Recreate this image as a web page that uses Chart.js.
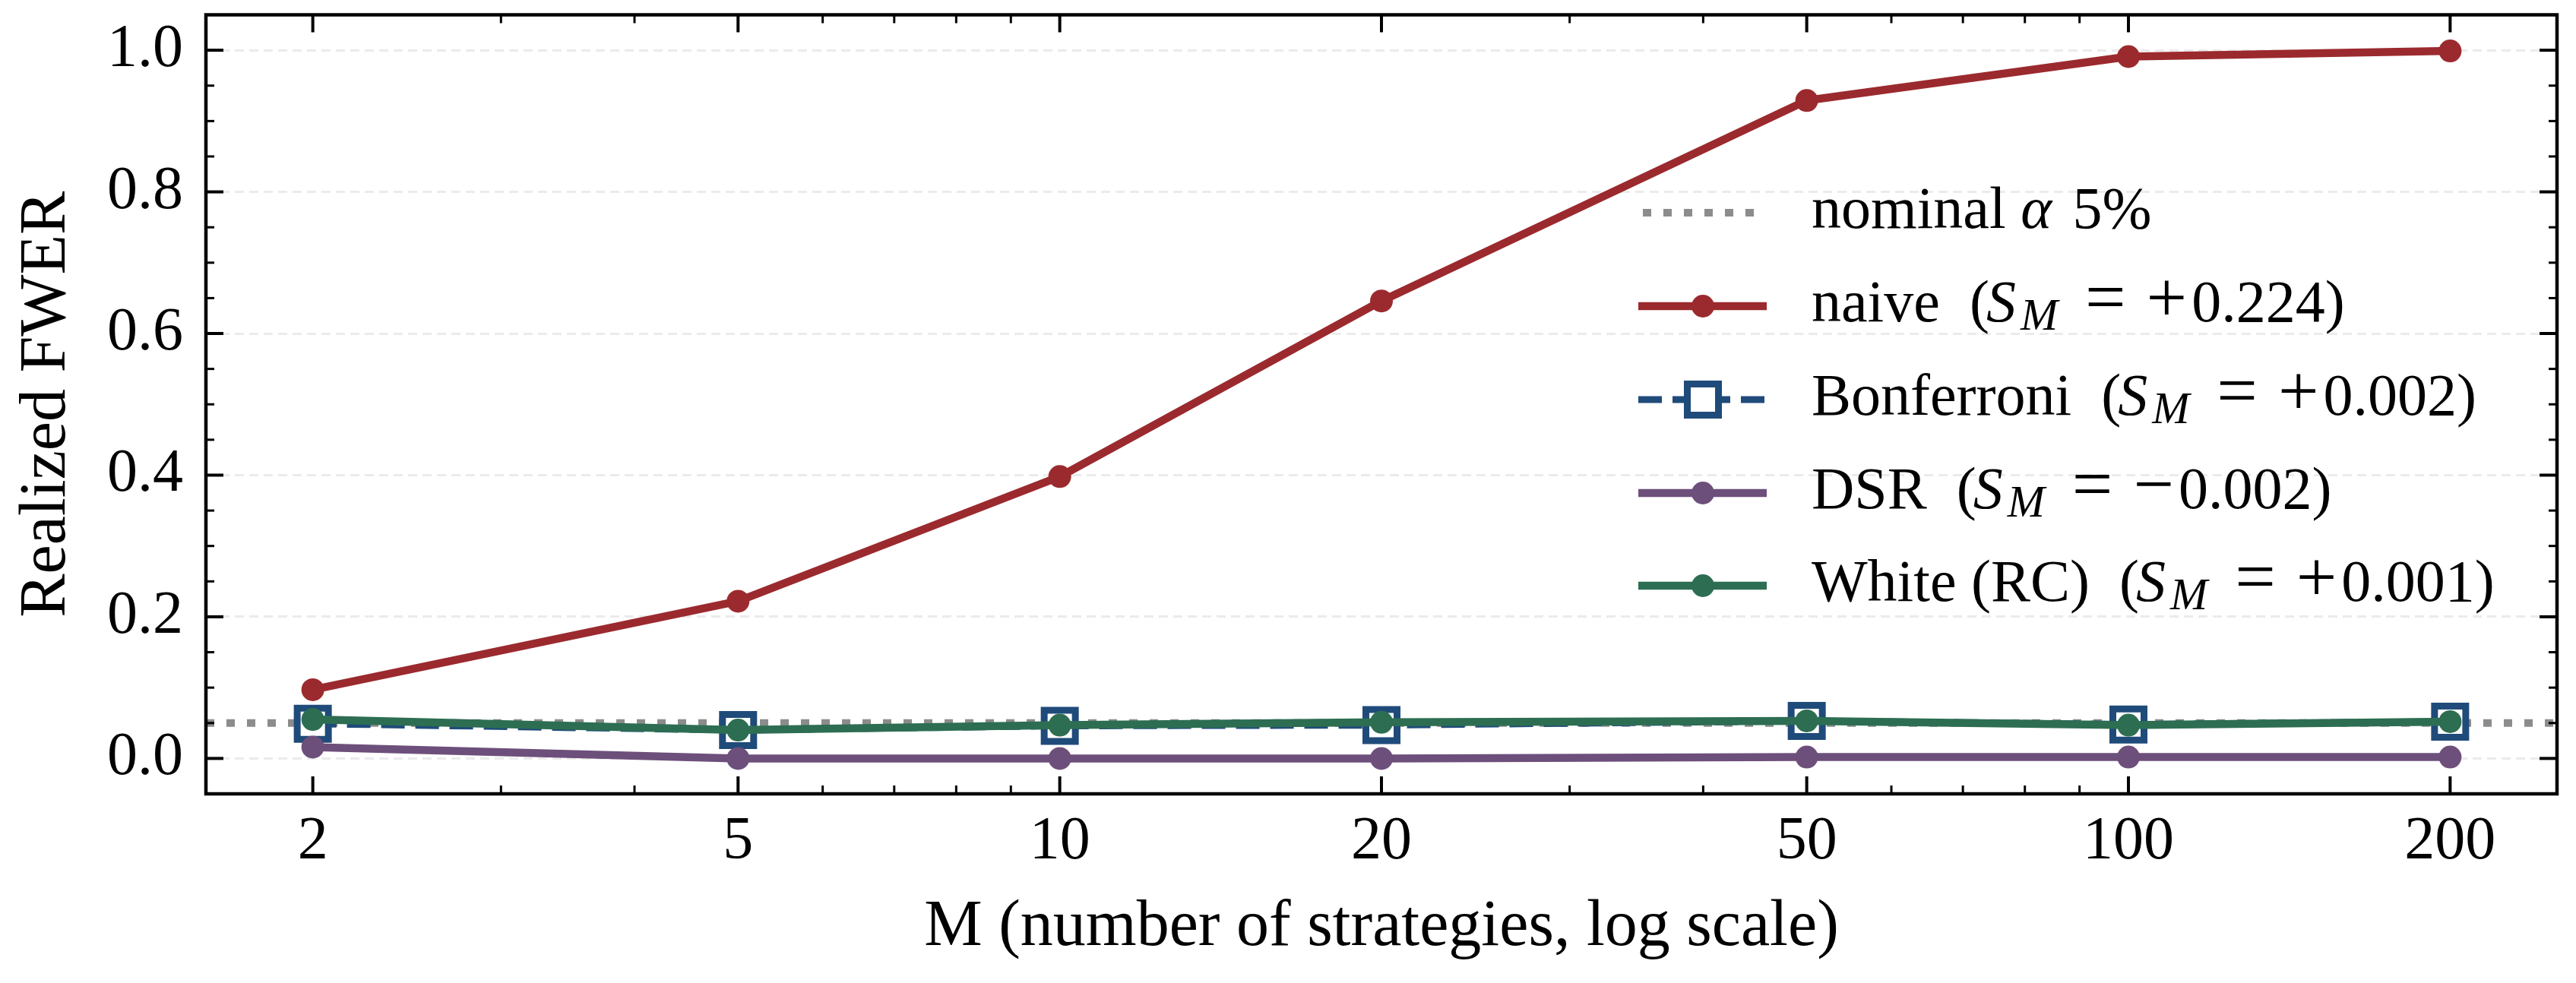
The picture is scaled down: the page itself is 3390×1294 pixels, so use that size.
<!DOCTYPE html>
<html>
<head>
<meta charset="utf-8">
<script src="https://cdn.jsdelivr.net/npm/chart.js@4.4.1/dist/chart.umd.min.js"></script>
<style>
html, body { margin: 0; padding: 0; background: #fff; overflow: hidden; }
canvas { display: block; }
</style>
</head>
<body>
<canvas id="chart-fwer" width="3390" height="1294" style="width:3390px;height:1294px"></canvas>
<script>
// data
const mValues = [2, 5, 10, 20, 50, 100, 200];
const naiveFwer = [0.097, 0.222, 0.398, 0.646, 0.929, 0.991, 0.999];
const bonferroniFwer = [0.049, 0.040, 0.046, 0.047, 0.053, 0.048, 0.052];
const dsrFwer = [0.016, 0.000, 0.000, 0.000, 0.002, 0.002, 0.002];
const whiteFwer = [0.055, 0.040, 0.047, 0.051, 0.053, 0.047, 0.052];
const nominalAlpha = 0.05;

const seriesNames = ["naive", "Bonferroni", "DSR", "White (RC)"];
const sharpeM = [0.224, 0.002, -0.002, 0.001];

const xTickValues = [2, 5, 10, 20, 50, 100, 200];
const xMinorTicks = [3, 4, 6, 7, 8, 9, 30, 40, 60, 70, 80, 90];
const yTickValues = [0.0, 0.2, 0.4, 0.6, 0.8, 1.0];
const yMinorTicks = [0.05, 0.1, 0.15, 0.25, 0.3, 0.35, 0.45, 0.5, 0.55, 0.65, 0.7, 0.75, 0.85, 0.9, 0.95];

const RED = '#9b2a2e';
const BLUE = '#1f4b7a';
const PURPLE = '#6d4f7b';
const GREEN = '#2d6e52';
const GREY = '#8c8c8c';
const FONT = '"Liberation Serif", "Times New Roman", serif';

const ctx = document.getElementById("chart-fwer").getContext('2d');

function points(values){
    return mValues.map(function (m, i){ return {x: m, y: values[i]}; });
}

function circleSeries(label, values, color, order){
    return {
        label: label,
        data: points(values),
        borderColor: color,
        backgroundColor: color,
        borderWidth: 10.5,
        borderCapStyle: 'butt',
        borderJoinStyle: 'round',
        pointStyle: 'circle',
        pointRadius: 15,
        pointBorderWidth: 0,
        pointBackgroundColor: color,
        order: order
    };
}

const naiveSet = circleSeries(seriesNames[0], naiveFwer, RED, 3);
const bonfSet = {
    label: seriesNames[1],
    data: points(bonferroniFwer),
    borderColor: BLUE,
    backgroundColor: BLUE,
    borderWidth: 9,
    borderDash: [31, 14],
    borderCapStyle: 'butt',
    pointStyle: 'rect',
    pointRadius: 29,
    pointBorderWidth: 9,
    pointBorderColor: BLUE,
    pointBackgroundColor: '#ffffff',
    order: 2
};
const dsrSet = circleSeries(seriesNames[2], dsrFwer, PURPLE, 1);
const whiteSet = circleSeries(seriesNames[3], whiteFwer, GREEN, 0);

// legend layout (pixels)
const legendRows = [280, 403, 526, 649, 771];
const HX0 = 2156, HX1 = 2325, HXM = 2241, TX = 2384;

function drawParts(c, x, y, parts){
    parts.forEach(function (p){
        c.font = p.font;
        c.fillText(p.t, x, y + (p.dy || 0));
        x += c.measureText(p.t).width + (p.gap || 0);
    });
}

const nominalLine = {
    id: 'nominalLine',
    beforeDatasetsDraw(chart){
        const c = chart.ctx, a = chart.chartArea;
        const py = chart.scales.y.getPixelForValue(nominalAlpha);
        c.save();
        c.strokeStyle = GREY;
        c.lineWidth = 10;
        c.setLineDash([11, 16]);
        c.beginPath();
        c.moveTo(a.left, py);
        c.lineTo(a.right, py);
        c.stroke();
        c.restore();
    }
};

const frame = {
    id: 'frame',
    afterDatasetsDraw(chart){
        const c = chart.ctx, a = chart.chartArea;
        const x = chart.scales.x, y = chart.scales.y;
        c.save();
        c.strokeStyle = '#000';
        function seg(x0, y0, x1, y1, w){
            c.lineWidth = w;
            c.beginPath(); c.moveTo(x0, y0); c.lineTo(x1, y1); c.stroke();
        }
        xTickValues.forEach(function (v){
            const p = x.getPixelForValue(v);
            seg(p, a.bottom, p, a.bottom - 23, 4);
            seg(p, a.top, p, a.top + 23, 4);
        });
        xMinorTicks.forEach(function (v){
            const p = x.getPixelForValue(v);
            seg(p, a.bottom, p, a.bottom - 11, 3);
            seg(p, a.top, p, a.top + 11, 3);
        });
        yTickValues.forEach(function (v){
            const p = y.getPixelForValue(v);
            seg(a.left, p, a.left + 23, p, 4);
            seg(a.right, p, a.right - 23, p, 4);
        });
        yMinorTicks.forEach(function (v){
            const p = y.getPixelForValue(v);
            seg(a.left, p, a.left + 11, p, 3);
            seg(a.right, p, a.right - 11, p, 3);
        });
        c.lineWidth = 4.5;
        c.strokeRect(a.left, a.top, a.right - a.left, a.bottom - a.top);
        c.restore();
    }
};

const mathLegend = {
    id: 'mathLegend',
    afterDraw(chart){
        const c = chart.ctx;
        const fs = 78;
        const reg = fs + 'px ' + FONT;
        const ita = 'italic ' + fs + 'px ' + FONT;
        const sub = 'italic ' + Math.round(fs * 0.75) + 'px ' + FONT;
        const op = '95px ' + FONT;
        c.save();
        c.fillStyle = '#000';
        c.textBaseline = 'alphabetic';
        c.textAlign = 'left';

        // nominal alpha entry
        let ry = legendRows[0];
        c.strokeStyle = GREY; c.lineWidth = 10; c.setLineDash([11, 16]);
        c.beginPath(); c.moveTo(HX0 + 6, ry); c.lineTo(HX1 - 10, ry); c.stroke();
        c.setLineDash([]);
        drawParts(c, TX, ry + 20, [
            {t: 'nominal ', font: reg},
            {t: '\u03b1', font: ita, gap: 8},
            {t: ' 5%', font: reg}
        ]);

        const sets = [naiveSet, bonfSet, dsrSet, whiteSet];
        sets.forEach(function (ds, i){
            const yy = legendRows[i + 1];
            c.save();
            c.strokeStyle = ds.borderColor;
            c.lineWidth = ds.borderWidth;
            c.setLineDash(ds.borderDash || []);
            c.beginPath(); c.moveTo(HX0, yy); c.lineTo(HX1, yy); c.stroke();
            c.setLineDash([]);
            c.fillStyle = ds.pointBackgroundColor;
            c.strokeStyle = ds.pointBorderColor || ds.borderColor;
            c.lineWidth = ds.pointBorderWidth;
            c.beginPath();
            if (ds.pointStyle === 'rect'){
                const h = ds.pointRadius * Math.SQRT1_2;
                c.rect(HXM - h, yy - h, 2 * h, 2 * h);
                c.fill(); c.stroke();
            } else {
                c.arc(HXM, yy, ds.pointRadius, 0, Math.PI * 2);
                c.fill();
            }
            c.restore();

            const v = sharpeM[i];
            c.fillStyle = '#000';
            drawParts(c, TX, yy + 20, [
                {t: ds.label + '  (', font: reg, gap: -4},
                {t: 'S', font: ita, gap: 6},
                {t: 'M', font: sub, dy: 11, gap: 36},
                {t: '=', font: op, gap: 27},
                {t: v < 0 ? '\u2212' : '+', font: op, gap: 6},
                {t: Math.abs(v).toFixed(3), font: reg},
                {t: ')', font: reg}
            ]);
        });
        c.restore();
    }
};

new Chart(ctx, {
    type: 'line',
    data: {
        datasets: [naiveSet, bonfSet, dsrSet, whiteSet]
    },
    options: {
        responsive: false,
        devicePixelRatio: 1,
        animation: false,
        layout: { autoPadding: false, padding: { top: 19.5, right: 25, left: 0, bottom: 0 } },
        plugins: {
            legend: { display: false },
            tooltip: { enabled: false }
        },
        scales: {
            x: {
                type: 'logarithmic',
                min: xTickValues[0] / Math.pow(10, 0.1),
                max: xTickValues[xTickValues.length - 1] * Math.pow(10, 0.1),
                grid: { display: false, drawTicks: false },
                border: { display: false },
                ticks: {
                    autoSkip: false,
                    maxRotation: 0,
                    padding: 16,
                    color: '#000',
                    font: { family: FONT, size: 80 },
                    callback: function (v){ return String(v); }
                },
                afterBuildTicks: function (s){ s.ticks = xTickValues.map(function (v){ return {value: v}; }); },
                afterFit: function (s){ s.height = 249; s.paddingLeft = 0; s.paddingRight = 0; },
                title: {
                    display: true,
                    text: 'M (number of strategies, log scale)',
                    color: '#000',
                    font: { family: FONT, size: 86 },
                    padding: { top: 0, bottom: 21 }
                }
            },
            y: {
                min: -0.05,
                max: 1.05,
                grid: { color: '#ebebeb', lineWidth: 3, drawTicks: false },
                border: { display: false, dash: [12, 7] },
                ticks: {
                    padding: 30,
                    color: '#000',
                    font: { family: FONT, size: 80 },
                    callback: function (v){ return Number(v).toFixed(1); }
                },
                afterBuildTicks: function (s){ s.ticks = yTickValues.map(function (v){ return {value: v}; }); },
                afterFit: function (s){ s.width = 271; s.paddingTop = 0; s.paddingBottom = 0; },
                title: {
                    display: true,
                    text: 'Realized FWER',
                    color: '#000',
                    font: { family: FONT, size: 86 },
                    padding: { top: 11, bottom: 0 }
                }
            }
        }
    },
    plugins: [nominalLine, frame, mathLegend]
});
</script>
</body>
</html>
